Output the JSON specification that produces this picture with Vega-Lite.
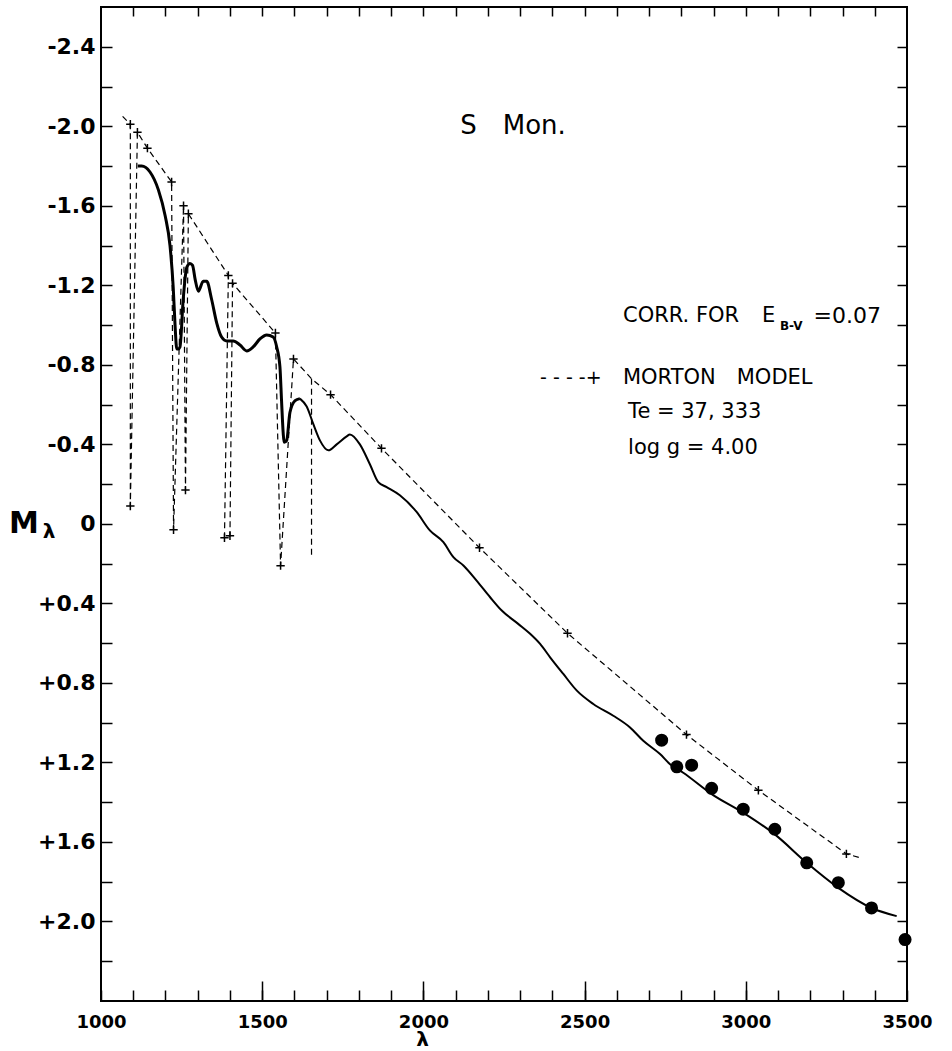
{
  "$schema": "https://vega.github.io/schema/vega-lite/v6.json",
  "width": 806,
  "height": 994,
  "autosize": {"type": "none"},
  "padding": {"left": 101, "top": 7, "right": 45, "bottom": 50},
  "background": "white",
  "config": {
    "view": {"stroke": "black", "strokeWidth": 2},
    "font": "DejaVu Sans",
    "axis": {"domain": false, "grid": false, "tickColor": "black", "labelColor": "black", "tickWidth": 1.5, "titleColor": "black"}
  },
  "datasets": {
    "morton": [
      {"i": 1, "grp": "a", "lam": 1067, "m": -2.05, "plus": 0},
      {"i": 2, "grp": "a", "lam": 1091, "m": -2.01, "plus": 1},
      {"i": 3, "grp": "a", "lam": 1091, "m": -0.09, "plus": 1},
      {"i": 4, "grp": "a", "lam": 1113, "m": -1.97, "plus": 1},
      {"i": 5, "grp": "a", "lam": 1144, "m": -1.89, "plus": 1},
      {"i": 6, "grp": "a", "lam": 1219, "m": -1.72, "plus": 1},
      {"i": 7, "grp": "a", "lam": 1225, "m": 0.03, "plus": 1},
      {"i": 8, "grp": "a", "lam": 1256, "m": -1.6, "plus": 1},
      {"i": 9, "grp": "a", "lam": 1262, "m": -0.17, "plus": 1},
      {"i": 10, "grp": "a", "lam": 1271, "m": -1.56, "plus": 1},
      {"i": 11, "grp": "a", "lam": 1395, "m": -1.25, "plus": 1},
      {"i": 12, "grp": "a", "lam": 1383, "m": 0.07, "plus": 1},
      {"i": 13, "grp": "a", "lam": 1400, "m": 0.06, "plus": 1},
      {"i": 14, "grp": "a", "lam": 1408, "m": -1.21, "plus": 1},
      {"i": 15, "grp": "a", "lam": 1541, "m": -0.96, "plus": 1},
      {"i": 16, "grp": "a", "lam": 1557, "m": 0.21, "plus": 1},
      {"i": 17, "grp": "a", "lam": 1597, "m": -0.83, "plus": 1},
      {"i": 18, "grp": "a", "lam": 1653, "m": -0.73, "plus": 0},
      {"i": 19, "grp": "b", "lam": 1653, "m": -0.73, "plus": 0},
      {"i": 20, "grp": "b", "lam": 1653, "m": 0.17, "plus": 0},
      {"i": 21, "grp": "a", "lam": 1712, "m": -0.65, "plus": 1},
      {"i": 22, "grp": "a", "lam": 1870, "m": -0.38, "plus": 1},
      {"i": 23, "grp": "a", "lam": 2174, "m": 0.12, "plus": 1},
      {"i": 24, "grp": "a", "lam": 2447, "m": 0.55, "plus": 1},
      {"i": 25, "grp": "a", "lam": 2816, "m": 1.06, "plus": 1},
      {"i": 26, "grp": "a", "lam": 3039, "m": 1.34, "plus": 1},
      {"i": 27, "grp": "a", "lam": 3312, "m": 1.66, "plus": 1},
      {"i": 28, "grp": "a", "lam": 3356, "m": 1.68, "plus": 0}
    ],
    "obsA": [
      {"lam": 1114, "m": -1.8}, {"lam": 1126, "m": -1.8}, {"lam": 1152, "m": -1.77}, {"lam": 1178, "m": -1.68},
      {"lam": 1199, "m": -1.55}, {"lam": 1214, "m": -1.4}, {"lam": 1224, "m": -1.19}, {"lam": 1230, "m": -0.99},
      {"lam": 1235, "m": -0.88}, {"lam": 1240, "m": -0.88}, {"lam": 1245, "m": -0.89}, {"lam": 1255, "m": -1.13},
      {"lam": 1266, "m": -1.29}, {"lam": 1276, "m": -1.31}, {"lam": 1284, "m": -1.3}, {"lam": 1292, "m": -1.23},
      {"lam": 1302, "m": -1.17}, {"lam": 1317, "m": -1.22}, {"lam": 1328, "m": -1.22}, {"lam": 1343, "m": -1.13},
      {"lam": 1359, "m": -1.01}, {"lam": 1374, "m": -0.94}, {"lam": 1390, "m": -0.92}, {"lam": 1410, "m": -0.92},
      {"lam": 1431, "m": -0.9}, {"lam": 1452, "m": -0.87}, {"lam": 1472, "m": -0.89}, {"lam": 1493, "m": -0.93},
      {"lam": 1514, "m": -0.95}, {"lam": 1534, "m": -0.94}, {"lam": 1545, "m": -0.89}, {"lam": 1555, "m": -0.79},
      {"lam": 1560, "m": -0.62}, {"lam": 1565, "m": -0.46}, {"lam": 1568, "m": -0.41}, {"lam": 1576, "m": -0.42},
      {"lam": 1586, "m": -0.56}, {"lam": 1602, "m": -0.62}, {"lam": 1617, "m": -0.63}
    ],
    "obsB": [
      {"lam": 1617, "m": -0.63}, {"lam": 1638, "m": -0.59}, {"lam": 1659, "m": -0.5}, {"lam": 1679, "m": -0.42},
      {"lam": 1705, "m": -0.37}, {"lam": 1731, "m": -0.4}, {"lam": 1762, "m": -0.44}, {"lam": 1772, "m": -0.45},
      {"lam": 1803, "m": -0.4}, {"lam": 1834, "m": -0.3}, {"lam": 1860, "m": -0.21}, {"lam": 1886, "m": -0.185},
      {"lam": 1927, "m": -0.144}, {"lam": 1979, "m": -0.06}, {"lam": 2020, "m": 0.033}, {"lam": 2062, "m": 0.092},
      {"lam": 2093, "m": 0.167}, {"lam": 2124, "m": 0.209}, {"lam": 2165, "m": 0.285}, {"lam": 2207, "m": 0.369},
      {"lam": 2243, "m": 0.436}, {"lam": 2294, "m": 0.503}, {"lam": 2331, "m": 0.553}, {"lam": 2362, "m": 0.604},
      {"lam": 2393, "m": 0.671}, {"lam": 2434, "m": 0.755}, {"lam": 2476, "m": 0.839}, {"lam": 2527, "m": 0.906},
      {"lam": 2589, "m": 0.965}, {"lam": 2641, "m": 1.024}, {"lam": 2682, "m": 1.091}, {"lam": 2734, "m": 1.158},
      {"lam": 2765, "m": 1.209}, {"lam": 2806, "m": 1.252}, {"lam": 2894, "m": 1.359}, {"lam": 2992, "m": 1.453},
      {"lam": 3090, "m": 1.562}, {"lam": 3189, "m": 1.705}, {"lam": 3287, "m": 1.831}, {"lam": 3390, "m": 1.932},
      {"lam": 3468, "m": 1.973}
    ],
    "dots": [
      {"lam": 2739, "m": 1.088}, {"lam": 2786, "m": 1.222}, {"lam": 2832, "m": 1.214}, {"lam": 2894, "m": 1.33},
      {"lam": 2992, "m": 1.435}, {"lam": 3090, "m": 1.536}, {"lam": 3189, "m": 1.705}, {"lam": 3287, "m": 1.805},
      {"lam": 3390, "m": 1.932}, {"lam": 3494, "m": 2.091}
    ]
  },
  "resolve": {"axis": {"x": "independent", "y": "independent"}},
  "layer": [
    {
      "data": {"name": "morton"},
      "mark": {"type": "line", "stroke": "black", "strokeWidth": 1.2, "strokeDash": [6, 4]},
      "encoding": {
        "x": {"field": "lam", "type": "quantitative",
          "scale": {"domain": [1000, 3500], "nice": false, "zero": false},
          "axis": {"orient": "bottom",
            "values": [1000, 1100, 1200, 1300, 1400, 1500, 1600, 1700, 1800, 1900, 2000, 2100, 2200, 2300, 2400, 2500, 2600, 2700, 2800, 2900, 3000, 3100, 3200, 3300, 3400, 3500],
            "tickSize": -11,
            "labelExpr": "datum.value % 500 === 0 ? format(datum.value, 'd') : ''",
            "labelFlush": false, "labelOverlap": false, "labelBound": false,
            "labelPadding": 23, "labelFont": "DejaVu Sans", "labelFontWeight": "bold", "labelFontSize": 18,
            "title": "λ", "titleFont": "DejaVu Sans", "titleFontSize": 20, "titleFontWeight": "bold",
            "titleX": 321, "titleY": 44, "titleBaseline": "alphabetic", "titleAlign": "center", "titleAnchor": null}},
        "y": {"field": "m", "type": "quantitative",
          "scale": {"domain": [-2.6, 2.4], "reverse": true, "nice": false, "zero": false},
          "axis": {"orient": "left",
            "values": [-2.4, -2.2, -2.0, -1.8, -1.6, -1.4, -1.2, -1.0, -0.8, -0.6, -0.4, -0.2, 0, 0.2, 0.4, 0.6, 0.8, 1.0, 1.2, 1.4, 1.6, 1.8, 2.0, 2.2],
            "tickSize": -11,
            "labelExpr": "abs(round(datum.value * 10)) % 4 === 0 ? (datum.value < -0.01 ? '-' + format(-datum.value, '.1f') : (datum.value > 0.01 ? '+' + format(datum.value, '.1f') : '0')) : ''",
            "labelOverlap": false, "labelBound": false, "labelFlush": false,
            "labelPadding": 17, "labelFont": "DejaVu Sans", "labelFontWeight": "bold", "labelFontSize": 22,
            "title": null}},
        "detail": {"field": "grp", "type": "nominal"},
        "order": {"field": "i", "type": "quantitative"}
      }
    },
    {
      "data": {"name": "morton"},
      "transform": [{"filter": "datum.plus === 1"}],
      "mark": {"type": "point", "shape": "M-1,0H1M0,-1V1", "filled": false, "stroke": "black", "strokeWidth": 1.5, "size": 70, "opacity": 1},
      "encoding": {
        "x": {"field": "lam", "type": "quantitative", "scale": {"domain": [1000, 3500], "nice": false, "zero": false}, "axis": null},
        "y": {"field": "m", "type": "quantitative", "scale": {"domain": [-2.6, 2.4], "reverse": true, "nice": false, "zero": false}, "axis": null}
      }
    },
    {
      "data": {"name": "obsA"},
      "mark": {"type": "line", "stroke": "black", "strokeWidth": 3, "interpolate": "monotone"},
      "encoding": {
        "x": {"field": "lam", "type": "quantitative",
          "scale": {"domain": [1000, 3500], "nice": false, "zero": false},
          "axis": {"orient": "top",
            "values": [1100, 1200, 1300, 1400, 1500, 1600, 1700, 1800, 1900, 2000, 2100, 2200, 2300, 2400, 2500, 2600, 2700, 2800, 2900, 3000, 3100, 3200, 3300, 3400],
            "tickSize": -9, "labels": false, "title": null}},
        "y": {"field": "m", "type": "quantitative",
          "scale": {"domain": [-2.6, 2.4], "reverse": true, "nice": false, "zero": false},
          "axis": {"orient": "right",
            "values": [-2.4, -2.2, -2.0, -1.8, -1.6, -1.4, -1.2, -1.0, -0.8, -0.6, -0.4, -0.2, 0, 0.2, 0.4, 0.6, 0.8, 1.0, 1.2, 1.4, 1.6, 1.8, 2.0, 2.2],
            "tickSize": -10, "labels": false, "title": null}}
      }
    },
    {
      "data": {"name": "obsB"},
      "mark": {"type": "line", "stroke": "black", "strokeWidth": 2, "interpolate": "monotone"},
      "encoding": {
        "x": {"field": "lam", "type": "quantitative", "scale": {"domain": [1000, 3500], "nice": false, "zero": false},
          "axis": {"orient": "bottom", "values": [1500, 2000, 2500, 3000], "tickSize": -20, "labels": false, "title": null}},
        "y": {"field": "m", "type": "quantitative", "scale": {"domain": [-2.6, 2.4], "reverse": true, "nice": false, "zero": false}, "axis": null}
      }
    },
    {
      "data": {"name": "dots"},
      "mark": {"type": "point", "shape": "circle", "filled": true, "color": "black", "size": 170, "opacity": 1},
      "encoding": {
        "x": {"field": "lam", "type": "quantitative", "scale": {"domain": [1000, 3500], "nice": false, "zero": false}, "axis": null},
        "y": {"field": "m", "type": "quantitative", "scale": {"domain": [-2.6, 2.4], "reverse": true, "nice": false, "zero": false}, "axis": null}
      }
    },
    {
      "data": {"values": [{}]},
      "mark": {"type": "text", "text": "S\u2003Mon.", "font": "DejaVu Sans", "fontSize": 26, "align": "center", "baseline": "middle", "color": "black"},
      "encoding": {
        "x": {"datum": 2278, "type": "quantitative", "scale": {"domain": [1000, 3500], "nice": false, "zero": false}, "axis": null},
        "y": {"datum": -2.0, "type": "quantitative", "scale": {"domain": [-2.6, 2.4], "reverse": true, "nice": false, "zero": false}, "axis": null}
      }
    },
    {
      "data": {"values": [{}]},
      "mark": {"type": "text", "text": "CORR. FOR", "font": "DejaVu Sans", "fontSize": 21, "align": "left", "baseline": "middle", "color": "black"},
      "encoding": {
        "x": {"datum": 2619, "type": "quantitative", "scale": {"domain": [1000, 3500], "nice": false, "zero": false}, "axis": null},
        "y": {"datum": -1.046, "type": "quantitative", "scale": {"domain": [-2.6, 2.4], "reverse": true, "nice": false, "zero": false}, "axis": null}
      }
    },
    {
      "data": {"values": [{}]},
      "mark": {"type": "text", "text": "E", "font": "DejaVu Sans", "fontSize": 21, "align": "left", "baseline": "middle", "color": "black"},
      "encoding": {
        "x": {"datum": 3050, "type": "quantitative", "scale": {"domain": [1000, 3500], "nice": false, "zero": false}, "axis": null},
        "y": {"datum": -1.046, "type": "quantitative", "scale": {"domain": [-2.6, 2.4], "reverse": true, "nice": false, "zero": false}, "axis": null}
      }
    },
    {
      "data": {"values": [{}]},
      "mark": {"type": "text", "text": "B-V", "font": "DejaVu Sans", "fontSize": 12, "fontWeight": "bold", "align": "left", "baseline": "middle", "color": "black"},
      "encoding": {
        "x": {"datum": 3106, "type": "quantitative", "scale": {"domain": [1000, 3500], "nice": false, "zero": false}, "axis": null},
        "y": {"datum": -0.996, "type": "quantitative", "scale": {"domain": [-2.6, 2.4], "reverse": true, "nice": false, "zero": false}, "axis": null}
      }
    },
    {
      "data": {"values": [{}]},
      "mark": {"type": "text", "text": "=0.07", "font": "DejaVu Sans", "fontSize": 22, "align": "left", "baseline": "middle", "color": "black"},
      "encoding": {
        "x": {"datum": 3210, "type": "quantitative", "scale": {"domain": [1000, 3500], "nice": false, "zero": false}, "axis": null},
        "y": {"datum": -1.046, "type": "quantitative", "scale": {"domain": [-2.6, 2.4], "reverse": true, "nice": false, "zero": false}, "axis": null}
      }
    },
    {
      "data": {"values": [{}]},
      "mark": {"type": "text", "text": "- - - -+", "font": "DejaVu Sans", "fontSize": 19, "align": "left", "baseline": "middle", "color": "black"},
      "encoding": {
        "x": {"datum": 2362, "type": "quantitative", "scale": {"domain": [1000, 3500], "nice": false, "zero": false}, "axis": null},
        "y": {"datum": -0.733, "type": "quantitative", "scale": {"domain": [-2.6, 2.4], "reverse": true, "nice": false, "zero": false}, "axis": null}
      }
    },
    {
      "data": {"values": [{}]},
      "mark": {"type": "text", "text": "MORTON\u2003MODEL", "font": "DejaVu Sans", "fontSize": 21, "align": "left", "baseline": "middle", "color": "black"},
      "encoding": {
        "x": {"datum": 2619, "type": "quantitative", "scale": {"domain": [1000, 3500], "nice": false, "zero": false}, "axis": null},
        "y": {"datum": -0.733, "type": "quantitative", "scale": {"domain": [-2.6, 2.4], "reverse": true, "nice": false, "zero": false}, "axis": null}
      }
    },
    {
      "data": {"values": [{}]},
      "mark": {"type": "text", "text": "Te = 37, 333", "font": "DejaVu Sans", "fontSize": 21, "align": "left", "baseline": "middle", "color": "black"},
      "encoding": {
        "x": {"datum": 2635, "type": "quantitative", "scale": {"domain": [1000, 3500], "nice": false, "zero": false}, "axis": null},
        "y": {"datum": -0.562, "type": "quantitative", "scale": {"domain": [-2.6, 2.4], "reverse": true, "nice": false, "zero": false}, "axis": null}
      }
    },
    {
      "data": {"values": [{}]},
      "mark": {"type": "text", "text": "log g = 4.00", "font": "DejaVu Sans", "fontSize": 21, "align": "left", "baseline": "middle", "color": "black"},
      "encoding": {
        "x": {"datum": 2635, "type": "quantitative", "scale": {"domain": [1000, 3500], "nice": false, "zero": false}, "axis": null},
        "y": {"datum": -0.381, "type": "quantitative", "scale": {"domain": [-2.6, 2.4], "reverse": true, "nice": false, "zero": false}, "axis": null}
      }
    },
    {
      "data": {"values": [{}]},
      "mark": {"type": "text", "text": "M", "font": "DejaVu Sans", "fontSize": 30, "fontWeight": "bold", "align": "center", "baseline": "middle", "color": "black"},
      "encoding": {
        "x": {"datum": 761, "type": "quantitative", "scale": {"domain": [1000, 3500], "nice": false, "zero": false}, "axis": null},
        "y": {"datum": 0, "type": "quantitative", "scale": {"domain": [-2.6, 2.4], "reverse": true, "nice": false, "zero": false}, "axis": null}
      }
    },
    {
      "data": {"values": [{}]},
      "mark": {"type": "text", "text": "λ", "font": "DejaVu Sans", "fontSize": 20, "fontWeight": "bold", "align": "center", "baseline": "middle", "color": "black"},
      "encoding": {
        "x": {"datum": 839, "type": "quantitative", "scale": {"domain": [1000, 3500], "nice": false, "zero": false}, "axis": null},
        "y": {"datum": 0.04, "type": "quantitative", "scale": {"domain": [-2.6, 2.4], "reverse": true, "nice": false, "zero": false}, "axis": null}
      }
    }
  ]
}
